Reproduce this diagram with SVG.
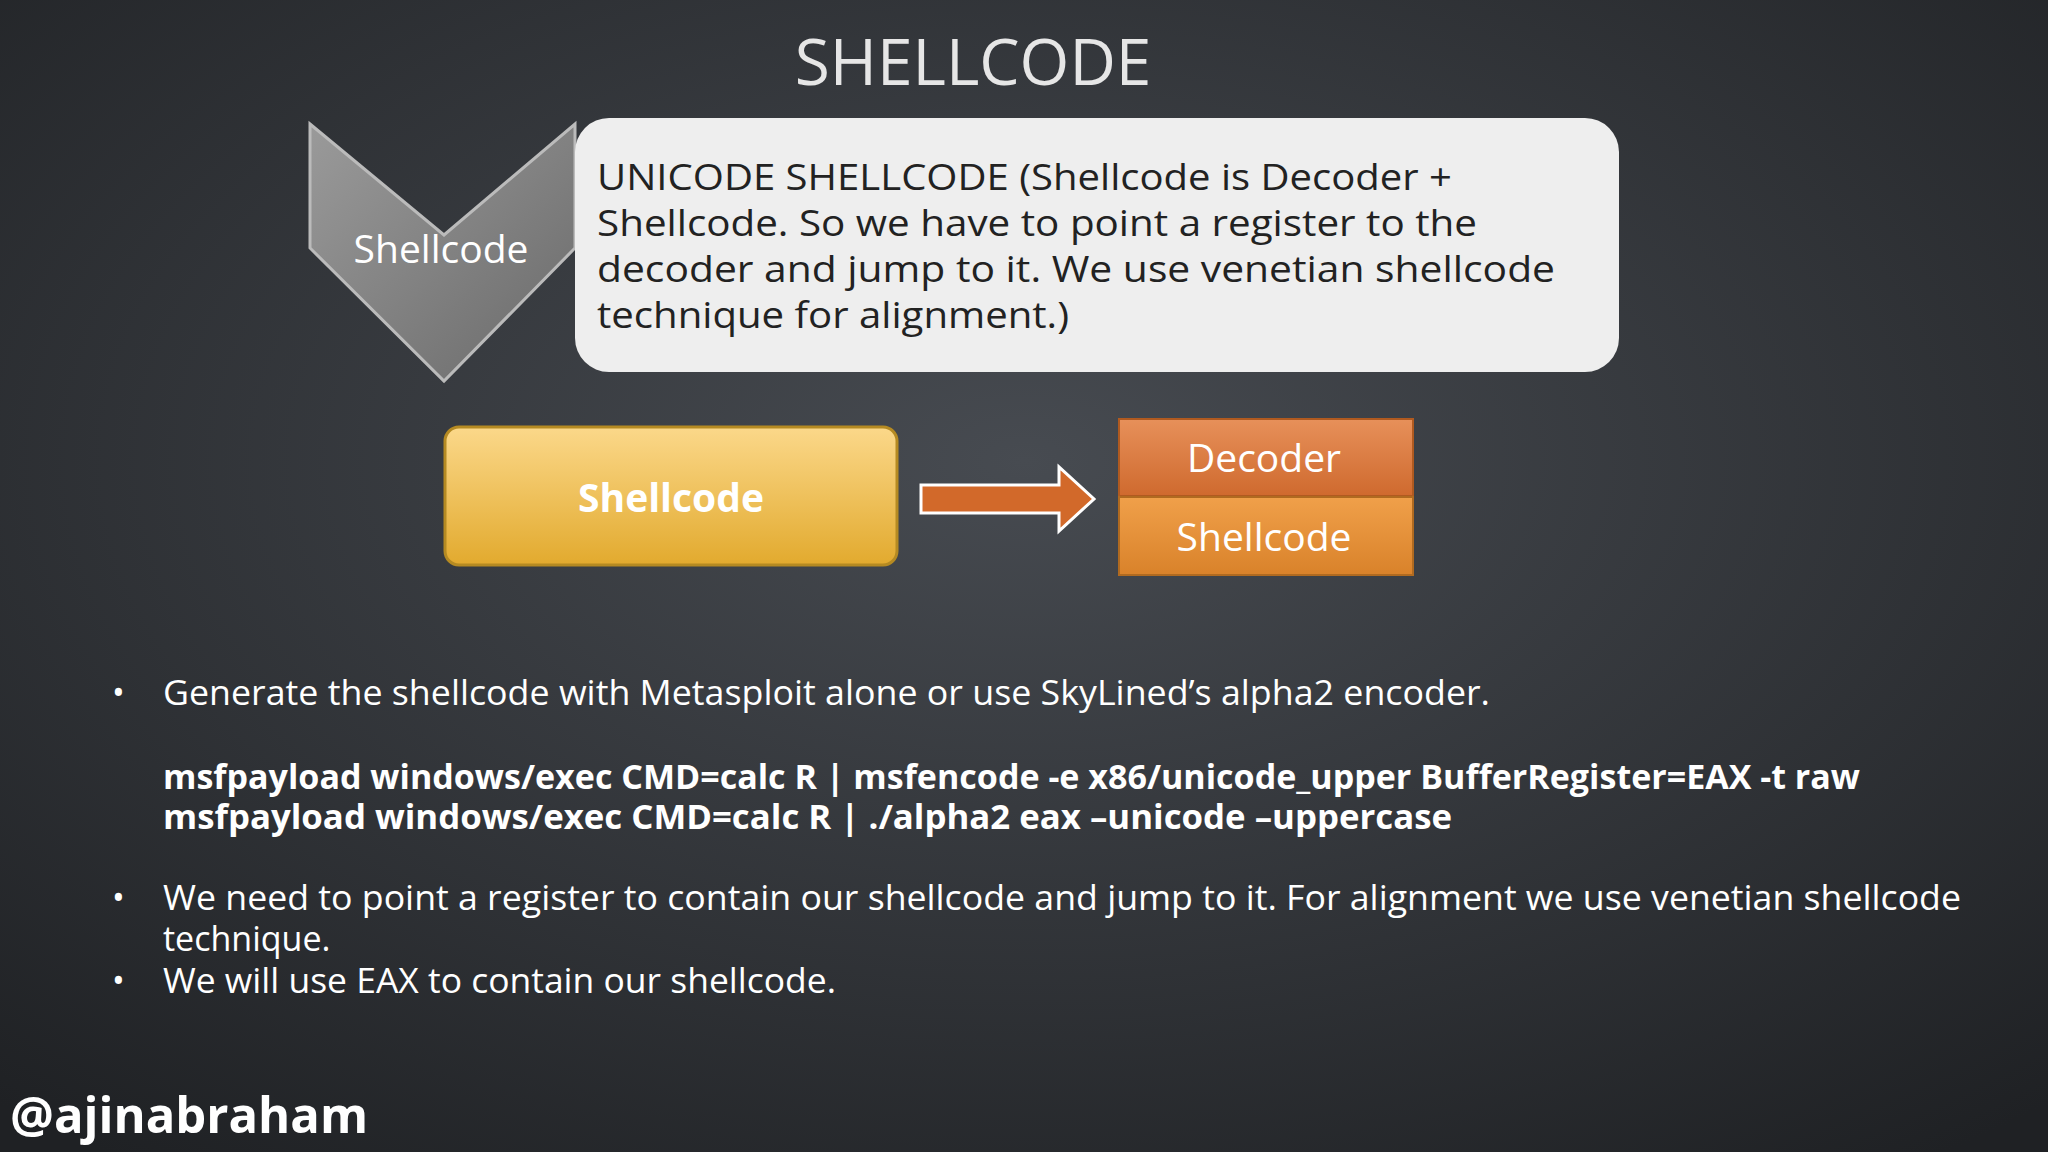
<svg xmlns="http://www.w3.org/2000/svg" width="2048" height="1152" viewBox="0 0 2048 1152">
<defs>
<radialGradient id="bg" cx="50%" cy="40%" r="75%"><stop offset="0" stop-color="#474b51"/><stop offset="1" stop-color="#1f2124"/></radialGradient>
<linearGradient id="gold" x1="0" y1="0" x2="0" y2="1"><stop offset="0" stop-color="#fbd88a"/><stop offset="1" stop-color="#e2aa2e"/></linearGradient>
<linearGradient id="chev" x1="0" y1="0" x2="1" y2="1"><stop offset="0" stop-color="#9a9a9a"/><stop offset="1" stop-color="#6a6a6a"/></linearGradient>
<linearGradient id="dec" x1="0" y1="0" x2="0" y2="1"><stop offset="0" stop-color="#e7905a"/><stop offset="1" stop-color="#cf6a2e"/></linearGradient>
<linearGradient id="sc" x1="0" y1="0" x2="0" y2="1"><stop offset="0" stop-color="#f0a04a"/><stop offset="1" stop-color="#d9822a"/></linearGradient>
<style>
text{font-family:"Open Sans","Liberation Sans",sans-serif;fill:#fff}
.b{font-size:34px}
.m{font-size:34px;font-weight:bold}
.d{font-size:37px;fill:#222}
</style>
</defs>
<rect width="2048" height="1152" fill="url(#bg)"/>
<text x="973" y="85" font-size="64" text-anchor="middle" style="fill:#e6e6e6">SHELLCODE</text>
<g id="chevron">
<polygon points="310,124 444,235 575,124 575,248 444,381 310,248" fill="url(#chev)" stroke="#bbb" stroke-width="3"/>
<text x="441" y="263" font-size="39" text-anchor="middle">Shellcode</text>
</g>
<g id="desc">
<rect x="575" y="118" width="1044" height="254" rx="34" fill="#eeeeee"/>
<text class="d" x="597" y="190" textLength="855" lengthAdjust="spacingAndGlyphs">UNICODE SHELLCODE (Shellcode is Decoder +</text>
<text class="d" x="597" y="236" textLength="880" lengthAdjust="spacingAndGlyphs">Shellcode. So we have to point a register to the</text>
<text class="d" x="597" y="282" textLength="958" lengthAdjust="spacingAndGlyphs">decoder and jump to it. We use venetian shellcode</text>
<text class="d" x="597" y="328" textLength="472" lengthAdjust="spacingAndGlyphs">technique for alignment.)</text>
</g>
<g id="gold-box">
<rect x="445" y="427" width="452" height="138" rx="14" fill="url(#gold)" stroke="#b58a22" stroke-width="3"/>
<text x="671" y="512" font-size="39" font-weight="bold" text-anchor="middle">Shellcode</text>
</g>
<g id="connectors">
<polygon points="921,485 1059,485 1059,467 1094,499 1059,531 1059,513 921,513" fill="#d2692a" stroke="#fff" stroke-width="3"/>
</g>
<g id="decoder">
<rect x="1119" y="419" width="294" height="77" fill="url(#dec)" stroke="#b05a20" stroke-width="2"/>
<text x="1264" y="472" font-size="39" text-anchor="middle">Decoder</text>
</g>
<g id="shellcode2">
<rect x="1119" y="497" width="294" height="78" fill="url(#sc)" stroke="#b06a20" stroke-width="2"/>
<text x="1264" y="551" font-size="39" text-anchor="middle">Shellcode</text>
</g>
<g id="bullets">
<text class="b" x="112" y="705">•</text>
<text class="b" x="163" y="705" textLength="1327" lengthAdjust="spacingAndGlyphs">Generate the shellcode with Metasploit alone or use SkyLined’s alpha2 encoder.</text>
<text class="m" x="163" y="789" textLength="1697" lengthAdjust="spacingAndGlyphs">msfpayload windows/exec CMD=calc R | msfencode -e x86/unicode_upper BufferRegister=EAX -t raw</text>
<text class="m" x="163" y="829" textLength="1289" lengthAdjust="spacingAndGlyphs">msfpayload windows/exec CMD=calc R | ./alpha2 eax –unicode –uppercase</text>
<text class="b" x="112" y="910">•</text>
<text class="b" x="163" y="910" textLength="1798" lengthAdjust="spacingAndGlyphs">We need to point a register to contain our shellcode and jump to it. For alignment we use venetian shellcode</text>
<text class="b" x="163" y="951">technique.</text>
<text class="b" x="112" y="993">•</text>
<text class="b" x="163" y="993" textLength="673" lengthAdjust="spacingAndGlyphs">We will use EAX to contain our shellcode.</text>
</g>
<text x="10" y="1133" font-size="50" font-weight="bold" textLength="358" lengthAdjust="spacingAndGlyphs">@ajinabraham</text>
</svg>
